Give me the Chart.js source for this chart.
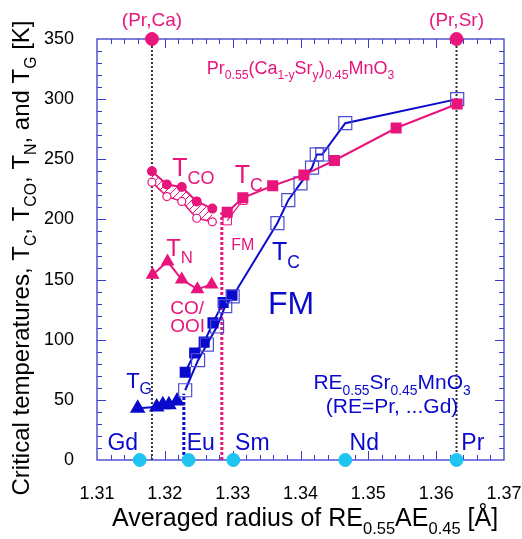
<!DOCTYPE html>
<html><head><meta charset="utf-8">
<script src="https://cdn.jsdelivr.net/npm/chart.js@4.4.1/dist/chart.umd.min.js"></script>
<style>html,body{margin:0;padding:0;background:#fff}</style>
</head><body>
<canvas id="c" width="522" height="539"></canvas>
<script>
// ---------- data ----------
const xTickValues = [1.31, 1.32, 1.33, 1.34, 1.35, 1.36, 1.37];
const yTickValues = [0, 50, 100, 150, 200, 250, 300, 350];

const tcoUpperX = [1.3181, 1.3203, 1.3225, 1.3247, 1.3270];
const tcoUpperY = [240, 229, 227, 215, 209];
const tcoLowerX = [1.3181, 1.3203, 1.3225, 1.3247, 1.3270];
const tcoLowerY = [231, 219, 215, 201, 198];
const tnX = [1.3182, 1.3204, 1.3225, 1.3248, 1.3269];
const tnY = [154, 165, 150, 142, 146];
const tcPinkX = [1.3292, 1.3315, 1.3359, 1.3405, 1.3450, 1.3541, 1.3631];
const tcPinkY = [206, 218, 228, 237, 249, 276, 296];
const tcPinkOpenX = [1.3292, 1.3315];
const tcPinkOpenY = [199, 216];
const tcBlueOpenX = [1.3230, 1.3249, 1.3262, 1.3277, 1.3289, 1.3300, 1.3366, 1.3382, 1.3400, 1.3417, 1.3424, 1.3432, 1.3466, 1.3631];
const tcBlueOpenY = [58, 83, 96, 111, 128, 136, 197, 216, 230, 243, 254, 254, 280, 300];
const tcBlueFilledX = [1.3230, 1.3244, 1.3258, 1.3271, 1.3286, 1.3299];
const tcBlueFilledY = [73, 89, 98, 114, 131, 137];
const tgX = [1.3160, 1.3188, 1.3197, 1.3206, 1.3218];
const tgY = [43, 44, 46, 46, 49];
const ionX = [1.3163, 1.3235, 1.3301, 1.3466, 1.3630];   // Gd, Eu, Sm, Nd, Pr
const ionY = [0, 0, 0, 0, 0];
const endX = [1.3181, 1.3630];                            // (Pr,Ca), (Pr,Sr)
const endY = [350, 350];
const guidePrCaX = [1.3181, 1.3181], guidePrCaY = [0, 350];
const guidePrSrX = [1.3630, 1.3630], guidePrSrY = [0, 350];
const guidePinkX = [1.3284, 1.3284], guidePinkY = [0, 206];
const guideBlueX = [1.3228, 1.3228], guideBlueY = [0, 55];

// ---------- styles ----------
const PINK = '#e8157c', BLUE = '#0a0acc', BLUE_OPEN = '#4c4cd4', AXIS = '#3a3acc', CYAN = '#1fc4f0';
const FONT = '"Liberation Sans", Arial, Helvetica, sans-serif';

const pts = (xs, ys) => xs.map((x, i) => ({x, y: ys[i]}));

function hatchPattern() {
  const s = 7, c = document.createElement('canvas');
  c.width = s; c.height = s;
  const g = c.getContext('2d');
  g.strokeStyle = PINK; g.lineWidth = 1;
  g.beginPath();
  g.moveTo(0, s); g.lineTo(s, 0);
  g.moveTo(-1, 1); g.lineTo(1, -1);
  g.moveTo(s - 1, s + 1); g.lineTo(s + 1, s - 1);
  g.stroke();
  return g.createPattern(c, 'repeat');
}

const line = (o) => Object.assign({showLine: true, borderWidth: 2, order: 2}, o);
const guide = (xs, ys, color, w, dash) => ({data: pts(xs, ys), showLine: true, borderColor: color,
  borderWidth: w, borderDash: dash, pointRadius: 0, order: 10});

const datasets = [
  line({data: pts(tcoUpperX, tcoUpperY), borderColor: PINK, pointStyle: 'circle', pointRadius: 4,
        pointBackgroundColor: PINK, pointBorderColor: PINK}),
  line({data: pts(tcoLowerX, tcoLowerY), borderColor: PINK, borderWidth: 1.5, pointStyle: 'circle', pointRadius: 4,
        pointBackgroundColor: '#fff', pointBorderColor: PINK, pointBorderWidth: 1.2,
        backgroundColor: hatchPattern(), fill: '-1'}),
  line({data: pts(tnX, tnY), borderColor: PINK, pointStyle: 'triangle', pointRadius: 6,
        pointBackgroundColor: PINK, pointBorderColor: PINK}),
  line({data: pts(tcPinkOpenX, tcPinkOpenY), borderColor: PINK, borderWidth: 1.2, pointStyle: 'rect', pointRadius: 6,
        pointBackgroundColor: 'rgba(0,0,0,0)', pointBorderColor: PINK, pointBorderWidth: 1}),
  line({data: pts(tcPinkX, tcPinkY), borderColor: PINK, pointStyle: 'rect', pointRadius: 6.4,
        pointBackgroundColor: PINK, pointBorderColor: PINK}),
  line({data: pts(tcBlueOpenX, tcBlueOpenY), borderColor: BLUE, pointStyle: 'rect', pointRadius: 9.2,
        pointBackgroundColor: 'rgba(0,0,0,0)', pointBorderColor: BLUE_OPEN, pointBorderWidth: 1.2}),
  line({data: pts(tcBlueFilledX, tcBlueFilledY), borderColor: BLUE, pointStyle: 'rect', pointRadius: 6.4,
        pointBackgroundColor: BLUE, pointBorderColor: BLUE}),
  line({data: pts(tgX, tgY), borderColor: BLUE, pointStyle: 'triangle', pointRadius: 7,
        pointBackgroundColor: BLUE, pointBorderColor: BLUE}),
  guide(guidePrCaX, guidePrCaY, '#333', 2, [2, 2]),
  guide(guidePrSrX, guidePrSrY, '#333', 2, [2, 2]),
  guide(guidePinkX, guidePinkY, PINK, 3, [3, 2]),
  guide(guideBlueX, guideBlueY, BLUE, 3, [3, 2]),
  {data: pts(ionX, ionY), showLine: false, pointStyle: 'circle', pointRadius: 6.5,
   pointBackgroundColor: CYAN, pointBorderColor: CYAN, clip: false, order: 0},
  {data: pts(endX, endY), showLine: false, pointStyle: 'circle', pointRadius: 6.5,
   pointBackgroundColor: PINK, pointBorderColor: PINK, clip: false, order: 0}
];

// ---------- text annotations (data coords) ----------
const S = 'sub';
const labels = [
  {parts: [['(Pr,Ca)']], x: 1.3181, y: 361, size: 19, color: PINK, align: 'center'},
  {parts: [['(Pr,Sr)']], x: 1.3630, y: 361, size: 19, color: PINK, align: 'center'},
  {parts: [['Pr'], ['0.55', S], ['(Ca'], ['1-y', S], ['Sr'], ['y', S], [')'], ['0.45', S], ['MnO'], ['3', S]],
   x: 1.3400, y: 321, size: 18, sub: 0.68, color: PINK, align: 'center'},
  {parts: [['T'], ['CO', S]], x: 1.3211, y: 236, size: 25, sub: 0.72, color: PINK, align: 'left'},
  {parts: [['T'], ['C', S]], x: 1.3303, y: 230, size: 25, sub: 0.7, color: PINK, align: 'left'},
  {parts: [['FM']], x: 1.3298, y: 175, size: 16, color: PINK, align: 'left'},
  {parts: [['T'], ['N', S]], x: 1.3202, y: 170, size: 24, sub: 0.7, color: PINK, align: 'left'},
  {parts: [['CO/']], x: 1.3208, y: 121, size: 19, color: PINK, align: 'left'},
  {parts: [['OOI']], x: 1.3208, y: 106, size: 19, color: PINK, align: 'left'},
  {parts: [['T'], ['C', S]], x: 1.3358, y: 166, size: 25, sub: 0.7, color: BLUE, align: 'left'},
  {parts: [['FM']], x: 1.3352, y: 121, size: 32, color: BLUE, align: 'left'},
  {parts: [['T'], ['G', S]], x: 1.3143, y: 60, size: 22, sub: 0.72, color: BLUE, align: 'left'},
  {parts: [['RE'], ['0.55', S], ['Sr'], ['0.45', S], ['MnO'], ['3', S]],
   x: 1.3535, y: 59, size: 21, sub: 0.66, color: BLUE, align: 'center'},
  {parts: [['(RE=Pr, ...Gd)']], x: 1.3535, y: 39, size: 21, color: BLUE, align: 'center'},
  {parts: [['Gd']], x: 1.3138, y: 8.5, size: 23, color: BLUE, align: 'center'},
  {parts: [['Eu']], x: 1.3253, y: 8.5, size: 23, color: BLUE, align: 'center'},
  {parts: [['Sm']], x: 1.3329, y: 8.5, size: 23, color: BLUE, align: 'center'},
  {parts: [['Nd']], x: 1.3494, y: 8.5, size: 23, color: BLUE, align: 'center'},
  {parts: [['Pr']], x: 1.3654, y: 8.5, size: 23, color: BLUE, align: 'center'}
];
const xTitle = [['Averaged radius of RE'], ['0.55', S], ['AE'], ['0.45', S], [' [Å]']];
const yTitle = [['Critical temperatures, T'], ['C', S], [', T'], ['CO', S], [', T'], ['N', S], [', and T'], ['G', S], [' [K]']];

function drawRich(ctx, parts, x, y, size, subRatio, color, align) {
  const sub = size * (subRatio || 0.68);
  const fontOf = p => (p[1] === S ? sub : size) + 'px ' + FONT;
  let total = 0;
  const widths = parts.map(p => { ctx.font = fontOf(p); const w = ctx.measureText(p[0]).width; total += w; return w; });
  let cx = align === 'center' ? x - total / 2 : x;
  ctx.fillStyle = color;
  ctx.textAlign = 'left';
  ctx.textBaseline = 'alphabetic';
  parts.forEach((p, i) => {
    ctx.font = fontOf(p);
    ctx.fillText(p[0], cx, y + (p[1] === S ? size * 0.3 : 0));
    cx += widths[i];
  });
}

const framePlugin = {
  id: 'frame',
  beforeDatasetsDraw(chart) {
    const {ctx, chartArea: a, scales: {x, y}} = chart;
    ctx.save();
    ctx.strokeStyle = AXIS;
    ctx.lineWidth = 1.3;
    ctx.strokeRect(a.left, a.top, a.right - a.left, a.bottom - a.top);
    ctx.lineWidth = 1;
    ctx.beginPath();
    for (let i = 1; i < 30; i++) {
      const px = Math.round(x.getPixelForValue(1.31 + i * 0.002)) + 0.5;
      const L = i % 5 === 0 ? 9 : 5;
      ctx.moveTo(px, a.bottom); ctx.lineTo(px, a.bottom - L);
      ctx.moveTo(px, a.top); ctx.lineTo(px, a.top + L);
    }
    for (let i = 1; i < 35; i++) {
      const py = Math.round(y.getPixelForValue(i * 10)) + 0.5;
      const L = i % 5 === 0 ? 9 : 5;
      ctx.moveTo(a.left, py); ctx.lineTo(a.left + L, py);
      ctx.moveTo(a.right, py); ctx.lineTo(a.right - L, py);
    }
    ctx.stroke();
    ctx.restore();
  },
  afterDraw(chart) {
    const {ctx, chartArea: a, scales: {x, y}} = chart;
    ctx.save();
    labels.forEach(l => drawRich(ctx, l.parts, x.getPixelForValue(l.x), y.getPixelForValue(l.y),
      l.size, l.sub, l.color, l.align));
    drawRich(ctx, xTitle, 305, 526, 25, 0.66, '#000', 'center');
    ctx.translate(29, 258);
    ctx.rotate(-Math.PI / 2);
    drawRich(ctx, yTitle, 0, 0, 24, 0.66, '#000', 'center');
    ctx.restore();
  }
};

new Chart(document.getElementById('c'), {
  type: 'scatter',
  data: {datasets},
  options: {
    responsive: false,
    animation: false,
    devicePixelRatio: 1,
    layout: {padding: {top: 39, right: 18, left: 0, bottom: 0}},
    plugins: {legend: {display: false}, tooltip: {enabled: false}},
    elements: {line: {tension: 0}},
    scales: {
      x: {
        type: 'linear', min: 1.31, max: 1.37,
        afterFit: s => { s.height = 79; s.paddingLeft = 0; s.paddingRight = 0; },
        afterBuildTicks: s => { s.ticks = xTickValues.map(v => ({value: v})); },
        grid: {display: false}, border: {display: false},
        ticks: {padding: 15, color: '#000', font: {size: 18, family: FONT},
                callback: v => Number(v).toFixed(2)}
      },
      y: {
        type: 'linear', min: 0, max: 350,
        afterFit: s => { s.width = 97; s.paddingTop = 0; s.paddingBottom = 0; },
        afterBuildTicks: s => { s.ticks = yTickValues.map(v => ({value: v})); },
        grid: {display: false}, border: {display: false},
        ticks: {padding: 15, color: '#000', font: {size: 18, family: FONT},
                callback: v => String(v)}
      }
    }
  },
  plugins: [framePlugin]
});
</script>
</body></html>
